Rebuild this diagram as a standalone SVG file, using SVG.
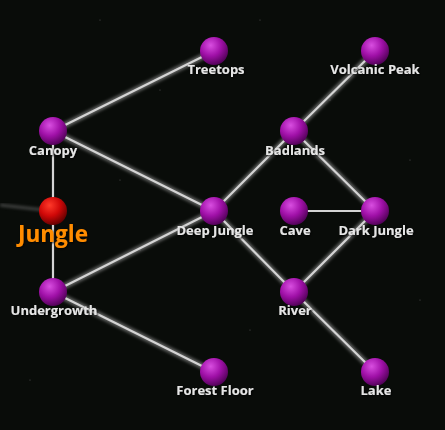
<svg xmlns="http://www.w3.org/2000/svg" width="445" height="430" viewBox="0 0 445 430">
<defs>
<radialGradient id="gp" cx="0.38" cy="0.3" r="0.75">
<stop offset="0" stop-color="#d84ee0"/>
<stop offset="0.5" stop-color="#a010a8"/>
<stop offset="1" stop-color="#4a0050"/>
</radialGradient>
<radialGradient id="gr" cx="0.38" cy="0.3" r="0.75">
<stop offset="0" stop-color="#ff3a2a"/>
<stop offset="0.5" stop-color="#d00808"/>
<stop offset="1" stop-color="#5a0000"/>
</radialGradient>
<filter id="blur" x="-20%" y="-20%" width="140%" height="140%"><feGaussianBlur stdDeviation="1.5"/></filter>
<filter id="sh" x="-10%" y="-30%" width="120%" height="160%"><feDropShadow dx="1" dy="1" stdDeviation="0.8" flood-color="#000" flood-opacity="0.9"/></filter>
</defs>
<style>
.e1{stroke:#a0a0a0;stroke-width:6;stroke-linecap:round;opacity:0.55;filter:url(#blur)}
.e2{stroke:#d4d4d4;stroke-width:2.2;stroke-linecap:round}
.n{fill:url(#gp)}
.lbl{font-family:"Open Sans","Noto Sans",sans-serif;font-weight:bold;font-size:13px;fill:#e6e6e6;text-anchor:middle;filter:url(#sh)}
.big{font-family:"Open Sans","Noto Sans",sans-serif;font-weight:bold;font-size:22.5px;fill:#ff8c00;text-anchor:middle;filter:url(#sh)}
</style>
<rect width="445" height="430" fill="#090c09"/>
<g id="stars" fill="#555">
<circle cx="100" cy="20" r="0.6"/><circle cx="160" cy="90" r="0.6"/><circle cx="330" cy="100" r="0.6"/><circle cx="410" cy="160" r="0.6"/><circle cx="140" cy="250" r="0.6"/><circle cx="250" cy="330" r="0.6"/><circle cx="30" cy="380" r="0.6"/><circle cx="420" cy="300" r="0.6"/><circle cx="260" cy="20" r="0.6"/><circle cx="120" cy="180" r="0.6"/>
</g>
<g id="connectors">
<line x1="0" y1="205" x2="53" y2="211" stroke="#777" stroke-width="3" opacity="0.5" filter="url(#blur)"/>
<line class="e1" x1="53" y1="131" x2="214" y2="51"/>
<line class="e1" x1="53" y1="131" x2="53" y2="211"/>
<line class="e1" x1="53" y1="131" x2="214" y2="211"/>
<line class="e1" x1="53" y1="211" x2="53" y2="292"/>
<line class="e1" x1="53" y1="292" x2="214" y2="211"/>
<line class="e1" x1="53" y1="292" x2="214" y2="372"/>
<line class="e1" x1="214" y1="211" x2="294" y2="131"/>
<line class="e1" x1="214" y1="211" x2="294" y2="292"/>
<line class="e1" x1="294" y1="131" x2="375" y2="51"/>
<line class="e1" x1="294" y1="131" x2="375" y2="211"/>
<line class="e1" x1="294" y1="211" x2="375" y2="211"/>
<line class="e1" x1="375" y1="211" x2="294" y2="292"/>
<line class="e1" x1="294" y1="292" x2="375" y2="372"/>
<line class="e2" x1="53" y1="131" x2="214" y2="51"/>
<line class="e2" x1="53" y1="131" x2="53" y2="211"/>
<line class="e2" x1="53" y1="131" x2="214" y2="211"/>
<line class="e2" x1="53" y1="211" x2="53" y2="292"/>
<line class="e2" x1="53" y1="292" x2="214" y2="211"/>
<line class="e2" x1="53" y1="292" x2="214" y2="372"/>
<line class="e2" x1="214" y1="211" x2="294" y2="131"/>
<line class="e2" x1="214" y1="211" x2="294" y2="292"/>
<line class="e2" x1="294" y1="131" x2="375" y2="51"/>
<line class="e2" x1="294" y1="131" x2="375" y2="211"/>
<line class="e2" x1="294" y1="211" x2="375" y2="211"/>
<line class="e2" x1="375" y1="211" x2="294" y2="292"/>
<line class="e2" x1="294" y1="292" x2="375" y2="372"/>
</g>
<g id="treetops"><circle class="n" cx="214" cy="51" r="14"/><text class="lbl" x="216" y="74">Treetops</text></g>
<g id="volcanic-peak"><circle class="n" cx="375" cy="51" r="14"/><text class="lbl" x="375" y="74">Volcanic Peak</text></g>
<g id="canopy"><circle class="n" cx="53" cy="131" r="14"/><text class="lbl" x="53" y="155">Canopy</text></g>
<g id="badlands"><circle class="n" cx="294" cy="131" r="14"/><text class="lbl" x="295" y="155">Badlands</text></g>
<g id="jungle"><circle cx="53" cy="211" r="14" fill="url(#gr)"/><text class="big" x="53" y="242">Jungle</text></g>
<g id="deep-jungle"><circle class="n" cx="214" cy="211" r="14"/><text class="lbl" x="215" y="235">Deep Jungle</text></g>
<g id="cave"><circle class="n" cx="294" cy="211" r="14"/><text class="lbl" x="295" y="235">Cave</text></g>
<g id="dark-jungle"><circle class="n" cx="375" cy="211" r="14"/><text class="lbl" x="376" y="235">Dark Jungle</text></g>
<g id="undergrowth"><circle class="n" cx="53" cy="292" r="14"/><text class="lbl" x="54" y="315">Undergrowth</text></g>
<g id="river"><circle class="n" cx="294" cy="292" r="14"/><text class="lbl" x="295" y="315">River</text></g>
<g id="forest-floor"><circle class="n" cx="214" cy="372" r="14"/><text class="lbl" x="215" y="395">Forest Floor</text></g>
<g id="lake"><circle class="n" cx="375" cy="372" r="14"/><text class="lbl" x="376" y="395">Lake</text></g>
</svg>
